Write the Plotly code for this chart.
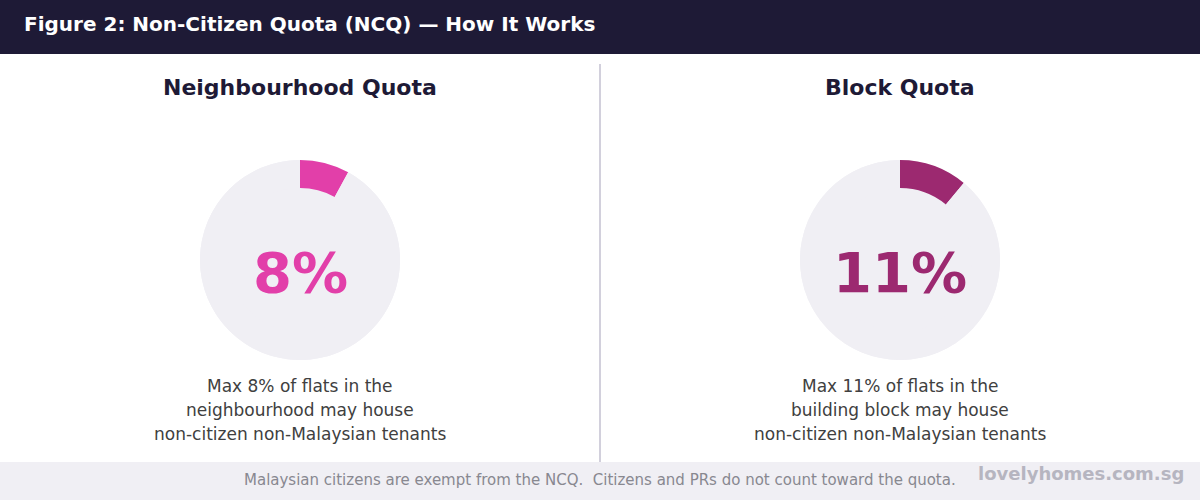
import plotly.graph_objects as go

# ---- data ----
panel_titles = ["Neighbourhood Quota", "Block Quota"]
quota_pct = [8, 11]
quota_colors = ["#e23fa9", "#9c2970"]
descriptions = [
    ["Max 8% of flats in the", "neighbourhood may house", "non-citizen non-Malaysian tenants"],
    ["Max 11% of flats in the", "building block may house", "non-citizen non-Malaysian tenants"],
]
header_title = "Figure 2: Non-Citizen Quota (NCQ) \u2014 How It Works"
footer_note = "Malaysian citizens are exempt from the NCQ.  Citizens and PRs do not count toward the quota."
brand = "lovelyhomes.com.sg"

W, H = 1200, 500
FONT = "DejaVu Sans"
NAVY = "#1e1a36"
RING_BG = "#f0eff4"

fig = go.Figure()

centers_x = [300, 900]
cy = 260
R = 100

for i, (pct, col) in enumerate(zip(quota_pct, quota_colors)):
    cx = centers_x[i]
    dom_x = [(cx - R) / W, (cx + R) / W]
    dom_y = [(H - cy - R) / H, (H - cy + R) / H]
    # full background disc
    fig.add_trace(go.Pie(
        values=[1], labels=["bg"], marker=dict(colors=[RING_BG], line=dict(width=0)),
        textinfo="none", hoverinfo="skip", sort=False, showlegend=False,
        domain=dict(x=dom_x, y=dom_y),
    ))
    # quota ring
    fig.add_trace(go.Pie(
        values=[pct, 100 - pct], labels=["Quota", "Other"],
        marker=dict(colors=[col, RING_BG], line=dict(width=0)),
        hole=0.72, textinfo="none", sort=False, direction="clockwise", rotation=0,
        showlegend=False, hoverinfo="label+value",
        domain=dict(x=dom_x, y=dom_y),
    ))

shapes = [
    # header bar
    dict(type="rect", xref="paper", yref="paper", x0=0, x1=1, y0=1 - 54 / H, y1=1,
         fillcolor=NAVY, line=dict(width=0), layer="below"),
    # footer band
    dict(type="rect", xref="paper", yref="paper", x0=0, x1=1, y0=0, y1=38 / H,
         fillcolor=RING_BG, line=dict(width=0), layer="below"),
    # divider
    dict(type="line", xref="paper", yref="paper", x0=0.5, x1=0.5,
         y0=38 / H, y1=1 - 64 / H, line=dict(color="#d2d0dc", width=2), layer="below"),
]

ann = []
ann.append(dict(text=f"<b>{header_title}</b>", x=22 / W, y=1 - 24 / H, xref="paper", yref="paper",
                xanchor="left", yanchor="middle", showarrow=False,
                font=dict(family=FONT, size=20, color="white")))
for i in range(2):
    cx = centers_x[i]
    ann.append(dict(text=f"<b>{panel_titles[i]}</b>", x=cx / W, y=1 - 88 / H, xref="paper", yref="paper",
                    xanchor="center", yanchor="middle", showarrow=False,
                    font=dict(family=FONT, size=22, color=NAVY)))
    ann.append(dict(text=f"<b>{quota_pct[i]}%</b>", x=cx / W, y=1 - 272 / H, xref="paper", yref="paper",
                    xanchor="center", yanchor="middle", showarrow=False,
                    font=dict(family=FONT, size=56, color=quota_colors[i])))
    for j, line in enumerate(descriptions[i]):
        ann.append(dict(text=line, x=cx / W, y=1 - (386 + 24 * j) / H, xref="paper", yref="paper",
                        xanchor="center", yanchor="middle", showarrow=False,
                        font=dict(family=FONT, size=17, color="#404040")))
ann.append(dict(text=footer_note, x=600 / W, y=1 - 480 / H, xref="paper", yref="paper",
                xanchor="center", yanchor="middle", showarrow=False,
                font=dict(family=FONT, size=15, color="#888890")))
ann.append(dict(text=f"<b>{brand}</b>", x=1186 / W, y=1 - 473 / H, xref="paper", yref="paper",
                xanchor="right", yanchor="middle", showarrow=False,
                font=dict(family=FONT, size=18, color="#b6b5c0")))

fig.update_layout(
    width=W, height=H, margin=dict(l=0, r=0, t=0, b=0),
    paper_bgcolor="white", plot_bgcolor="white",
    shapes=shapes, annotations=ann, showlegend=False,
    font=dict(family=FONT),
)

fig.write_html("out.html", config={"displayModeBar": False})
